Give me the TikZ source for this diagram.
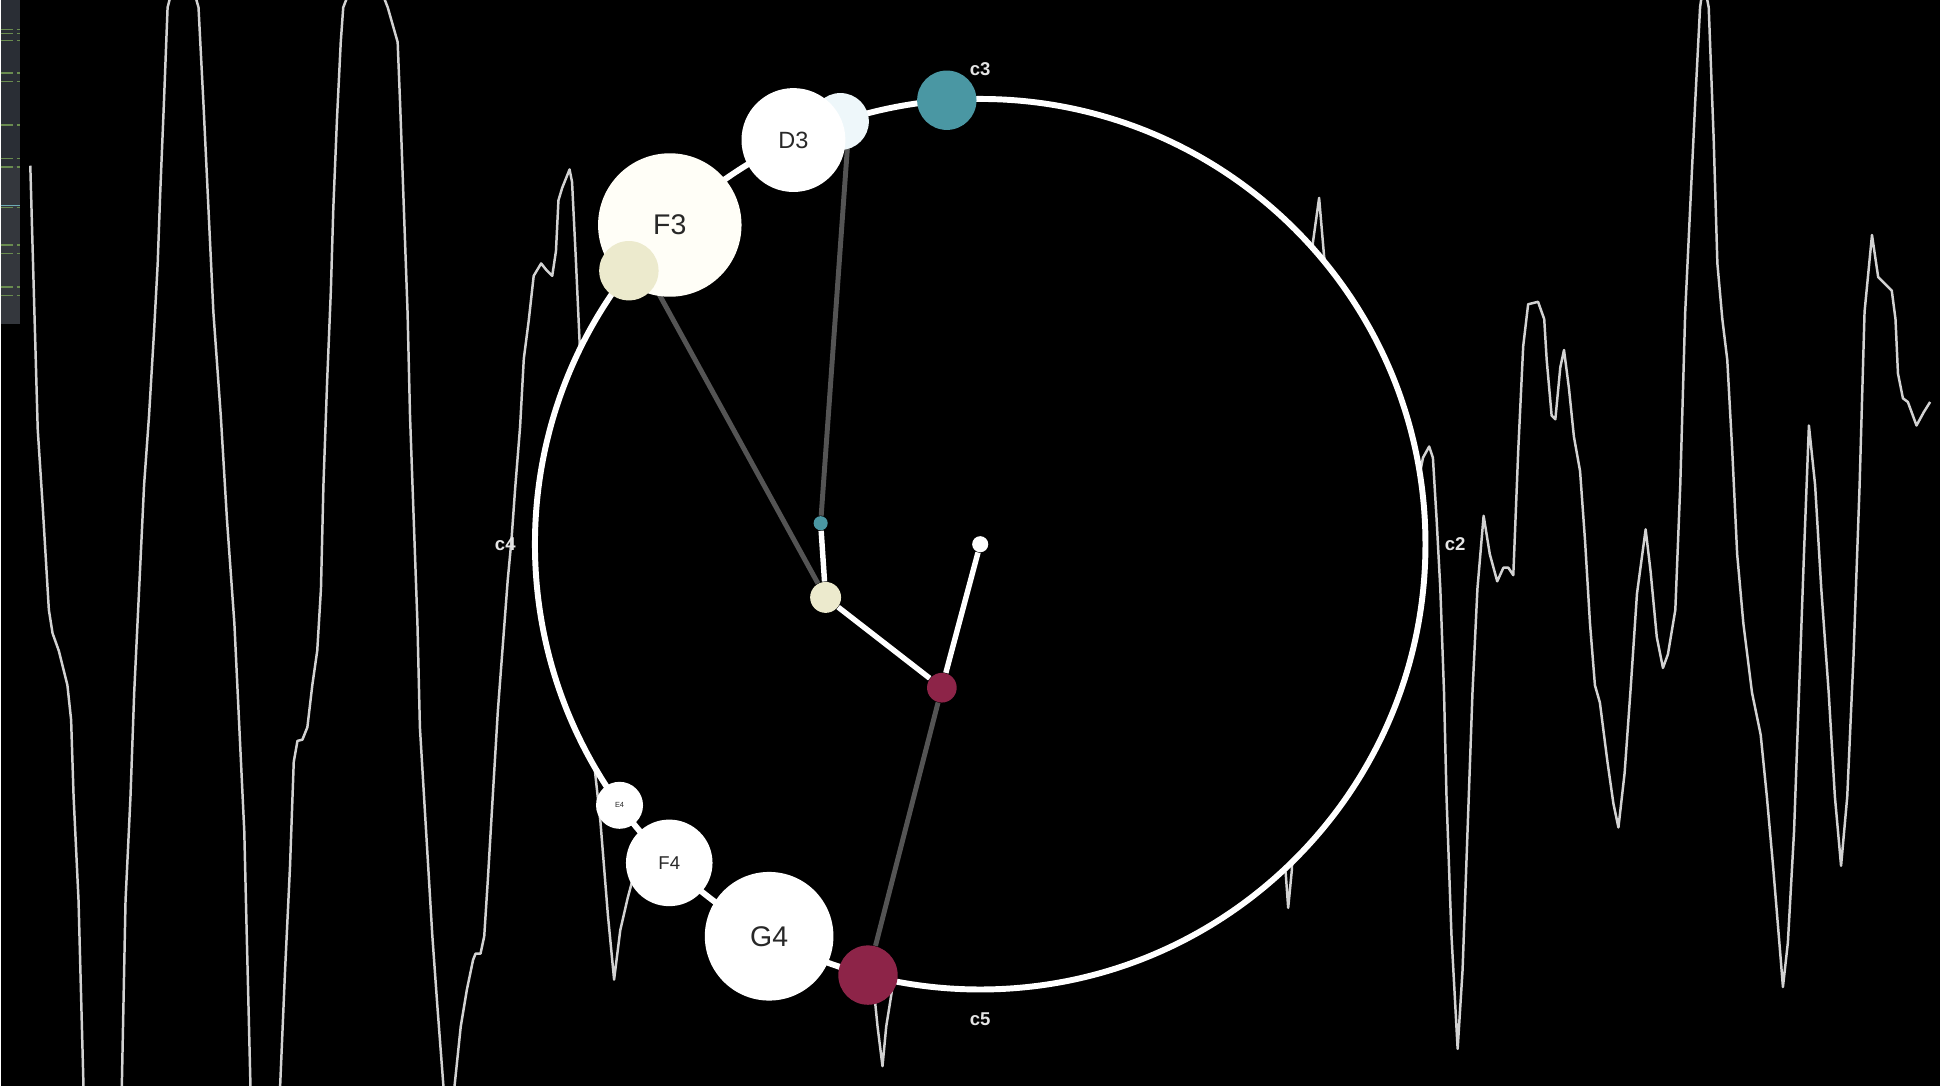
\documentclass[tikz,border=0pt]{standalone}
\usepackage{fontspec}
\setsansfont{Liberation Sans}
\definecolor{tealnote}{RGB}{74,151,163}
\definecolor{rednote}{RGB}{141,36,72}
\definecolor{creamnote}{RGB}{236,234,205}
\definecolor{palenote}{RGB}{238,247,250}
\definecolor{offwhite}{RGB}{255,254,247}
\definecolor{linkgray}{RGB}{84,84,84}
\definecolor{wavegray}{RGB}{210,210,210}
\definecolor{notetext}{RGB}{40,40,40}
\definecolor{panel}{RGB}{42,46,53}
\definecolor{panellight}{RGB}{52,55,61}
\definecolor{dashgreen}{RGB}{106,140,80}
\pgfdeclarelayer{back}
\pgfdeclarelayer{links}
\pgfsetlayers{back,links,main}

\begin{document}
\begin{tikzpicture}[x=0.5pt, y=-0.5pt,
    wave/.style={wavegray, line width=1pt, line join=round},
    ring/.style={draw=white, fill=black, line width=2.4pt},
    note/.style={circle, fill=white, inner sep=0pt, font=\sffamily, text=notetext},
    bob/.style={circle, inner sep=0pt},
    link/.style={white, line width=2.2pt},
    proj/.style={linkgray, line width=2pt},
    ringlabel/.style={font=\sffamily\bfseries\fontsize{7.5}{8}\selectfont, text=white!90!black}]
  \begin{pgfonlayer}{back}
    \fill[black] (0,0) rectangle (1568,878);
    % side panel
    \fill[panel] (0,0) rectangle (16,262);
    \fill[panellight] (0,134) rectangle (16,262);
    \foreach \yy in {24,27,33,59,66,101,128,135,168,198,205,232,239}
      \draw[dashgreen, line width=0.5pt, dash pattern=on 5pt off 1.5pt] (0,\yy) -- (16,\yy);
    \draw[tealnote!80, line width=0.5pt] (0,166) -- (16,166);
    % waveform behind the ring
    \begin{scope}
      \clip (16,0) rectangle (1568,878);
      \draw[wave] (24,134) -- (27,241) -- (30,347) -- (34,409) -- (39,493) -- (42,512) -- (47,526)
        -- (54,554) -- (57,582) -- (59,644) -- (63,728) -- (67,878) -- (72,930)
        -- (95,930) -- (98,878) -- (101,728) -- (105,644) -- (108,560) -- (112,476) -- (116,392)
        -- (120,336) -- (124,269) -- (127,213) -- (129,157) -- (132,84) -- (135,6) -- (147,-40)
        -- (160,6) -- (164,84) -- (168,168) -- (172,252) -- (178,336) -- (183,420) -- (189,504)
        -- (193,588) -- (197,672) -- (199,756) -- (202,878) -- (205,930)
        -- (222,930) -- (226,878) -- (230,784) -- (234,700) -- (237,616) -- (240,599) -- (244,598)
        -- (248,588) -- (252,554) -- (256,526) -- (259,476) -- (261,392) -- (264,308) -- (267,235)
        -- (269,168) -- (272,95) -- (275,34) -- (277,6) -- (295,-40) -- (313,6) -- (321,34)
        -- (323,84) -- (326,168) -- (329,252) -- (331,336) -- (334,420) -- (337,504) -- (339,588)
        -- (344,672) -- (349,756) -- (353,812) -- (358,878) -- (362,910)
        -- (367,878) -- (372,830) -- (377,800) -- (382,776) -- (384,771) -- (388,771) -- (391,757)
        -- (394,710) -- (398,642) -- (402,575) -- (406,522) -- (410,469) -- (413,437) -- (416,395)
        -- (420,345) -- (423,290) -- (427,259) -- (431,223) -- (434,218) -- (437,213) -- (441,218)
        -- (446,223) -- (449,203) -- (451,162) -- (454,152) -- (458,142) -- (460,137) -- (462,147)
        -- (465,208) -- (468,274) -- (472,400) -- (478,600) -- (485,665) -- (491,740) -- (496,792)
        -- (501,752) -- (507,726) -- (511,711) -- (600,600) -- (706,800) -- (709,830) -- (713,862)
        -- (716,830) -- (720,805) -- (750,600) -- (1000,500) -- (1039,706) -- (1041,734)
        -- (1044,703) -- (1050,500) -- (1061,196) -- (1066,160) -- (1070,207) -- (1100,400)
        -- (1140,420) -- (1150,370) -- (1155,361) -- (1158,370) -- (1161,420) -- (1164,476)
        -- (1167,560) -- (1169,644) -- (1173,756) -- (1178,848) -- (1182,784) -- (1186,672)
        -- (1190,560) -- (1194,476) -- (1199,417) -- (1204,448) -- (1210,470) -- (1215,459)
        -- (1219,459) -- (1223,465) -- (1227,364) -- (1231,280) -- (1235,246) -- (1243,244)
        -- (1248,258) -- (1250,291) -- (1254,336) -- (1257,339) -- (1261,297) -- (1264,283)
        -- (1268,314) -- (1272,353) -- (1277,381) -- (1281,437) -- (1285,504) -- (1289,554)
        -- (1293,568) -- (1299,615) -- (1304,650) -- (1308,669) -- (1313,625) -- (1318,555)
        -- (1323,480) -- (1330,428) -- (1334,462) -- (1339,515) -- (1344,540) -- (1348,529)
        -- (1354,493) -- (1358,392) -- (1362,252) -- (1366,168) -- (1370,84) -- (1374,6)
        -- (1377,-15) -- (1381,6) -- (1385,112) -- (1388,213) -- (1392,258) -- (1396,291)
        -- (1400,364) -- (1404,448) -- (1409,504) -- (1416,560) -- (1423,594) -- (1428,644)
        -- (1433,700) -- (1439,773) -- (1441,798) -- (1445,762) -- (1450,672) -- (1454,560)
        -- (1458,448) -- (1462,344) -- (1467,392) -- (1472,476) -- (1478,560) -- (1483,644)
        -- (1488,700) -- (1493,644) -- (1498,532) -- (1503,392) -- (1507,252) -- (1513,190)
        -- (1518,224) -- (1524,230) -- (1529,235) -- (1532,258) -- (1534,302) -- (1538,322)
        -- (1542,325) -- (1549,344) -- (1555,333) -- (1560,325);
    \end{scope}
    \draw[ring] (792,440) circle (360);
  \end{pgfonlayer}

  % notes on the ring
  \begin{scope}[shift={(792,440)}]
    \node[note, fill=palenote, minimum size=23pt] (paleNote) at (-108.3:360) {};
    \node[note, minimum size=42pt, font=\sffamily\fontsize{9.5}{10}\selectfont] (D3) at (-114.8:360) {D3};
    \node[note, fill=offwhite, minimum size=58pt, font=\sffamily\fontsize{11.5}{12}\selectfont] (F3) at (-134.2:360) {F3};
    \node[bob, fill=creamnote, minimum size=24pt] (creamNote) at (-142.1:360) {};
    \node[bob, fill=tealnote, minimum size=24pt] (tealNote) at (-94.3:360) {};
    \node[note, minimum size=19pt, font=\sffamily\fontsize{3}{3}\selectfont] (E4) at (144.1:360) {E4};
    \node[note, minimum size=35pt, font=\sffamily\fontsize{7.5}{8}\selectfont] (F4) at (134.3:360) {F4};
    \node[note, minimum size=52pt, font=\sffamily\fontsize{11.5}{12}\selectfont] (G4) at (118.3:360) {G4};
    \node[bob, fill=rednote, minimum size=24pt] (redNote) at (104.6:360) {};
    \foreach \ang/\txt in {-90/c3, 0/c2, 90/c5, 180/c4}
      \node[ringlabel] (lbl\txt) at (\ang:384) {\txt};
  \end{scope}

  % pendulum
  \node[bob, fill=white, minimum size=6.5pt] (pivot) at (792,440) {};
  \node[bob, fill=rednote, minimum size=12pt] (redBob) at (761,556) {};
  \node[bob, fill=creamnote, minimum size=12.5pt] (creamBob) at (667,483) {};
  \node[bob, fill=tealnote, minimum size=5.7pt] (tealBob) at (663,423) {};
  \coordinate (paleTip) at (686,100);
  \coordinate (creamTip) at (522,219);

  \begin{pgfonlayer}{links}
    \draw[proj] (tealBob) -- (paleTip);
    \draw[proj] (creamBob) -- (creamTip);
    \draw[proj] (redBob) -- (redNote);
    \draw[link] (pivot) -- (redBob) -- (creamBob) -- (tealBob);
  \end{pgfonlayer}
\end{tikzpicture}
\end{document}
